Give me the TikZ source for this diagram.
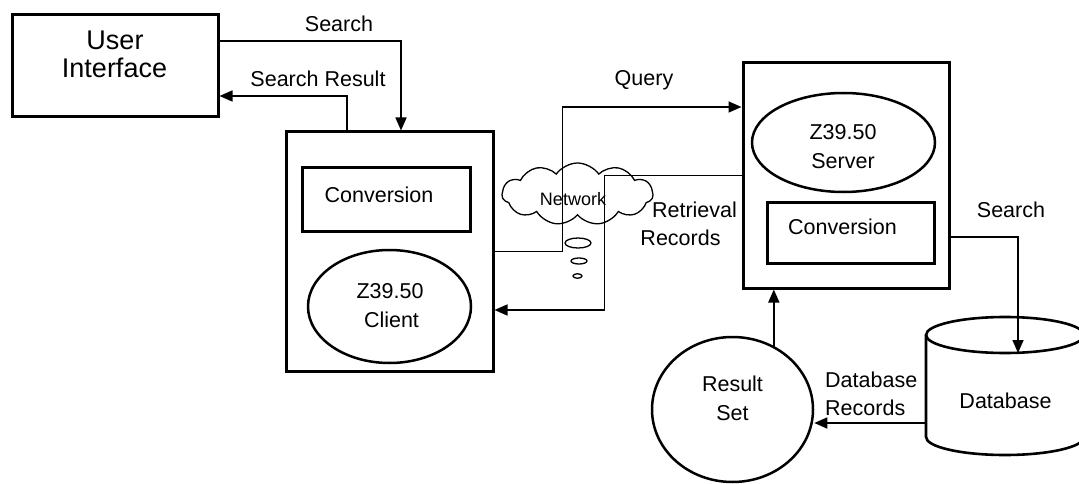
\documentclass[tikz,border=0pt]{standalone}
\usepackage{fontspec}
\setmainfont{Liberation Sans}
\usetikzlibrary{shapes.geometric,shapes.symbols,arrows.meta,calc}
\begin{document}
\begin{tikzpicture}[x=1pt,y=-1pt,
  box/.style={draw, line width=3pt, rectangle, inner sep=0pt},
  inbox/.style={draw, line width=3pt, rectangle, inner sep=0pt},
  oval/.style={draw, line width=2.5pt, ellipse, inner sep=0pt},
  lbl/.style={anchor=base, inner sep=0pt, font=\fontsize{21.5}{24}\selectfont},
  big/.style={anchor=base, inner sep=0pt, font=\fontsize{27}{30}\selectfont},
  bubble/.style={draw, line width=1.3pt, ellipse, inner sep=0pt},
  conn/.style={line width=1.6pt},
  arr/.style={conn, -{Triangle[length=13pt,width=11pt]}},
]
\useasboundingbox (0,0) rectangle (1079,484);

% User interface
\node[box, minimum width=206pt, minimum height=102pt] (ui) at (115,66) {};
\node[big] (uit1) at (115,50) {User};
\node[big] (uit2) at (114.5,78) {Interface};

% Client
\node[box, minimum width=207pt, minimum height=239pt] (client) at (389.5,251.5) {};
\node[inbox, minimum width=168pt, minimum height=63pt] (cconv) at (386,199.5) {};
\node[lbl] (cconvt) at (379,202) {Conversion};
\node[oval, minimum width=163pt, minimum height=113pt] (cz) at (389.5,306.5) {};
\node[lbl] (czt1) at (390,298) {Z39.50};
\node[lbl] (czt2) at (391.5,327) {Client};

% Server
\node[box, minimum width=206pt, minimum height=225pt] (server) at (846,175.5) {};
\node[oval, minimum width=183pt, minimum height=99pt] (sz) at (843.5,142.5) {};
\node[lbl] (szt1) at (843,140) {Z39.50};
\node[lbl] (szt2) at (843,168) {Server};
\node[inbox, minimum width=167pt, minimum height=61pt] (sconv) at (850.5,232.5) {};
\node[lbl] (sconvt) at (842.5,234) {Conversion};

% Result set
\node[oval, minimum width=161pt, minimum height=145pt] (rs) at (732.5,409.5) {};
\node[lbl] (rst1) at (732.5,391) {Result};
\node[lbl] (rst2) at (732.5,420) {Set};

% Database cylinder
\draw[line width=2.6pt] (1005,335) ellipse [x radius=79pt, y radius=18pt];
\draw[line width=2.6pt] (926,335) -- (926,437) arc[start angle=180, end angle=360, x radius=79pt, y radius=18pt] -- (1084,335);
\coordinate (dbtop) at (1018,353);
\coordinate (dbrec) at (926,423);
\node[lbl] (dbt) at (1005.5,408) {Database};

% Network cloud
\node[cloud, draw, line width=1.3pt, cloud puffs=11, cloud puff arc=110, aspect=2.4,
      minimum width=151pt, minimum height=62pt, inner sep=0pt] (net) at (577.5,194) {};
\node[anchor=base, inner sep=0pt, font=\fontsize{18}{20}\selectfont] (nett) at (573,205) {Network};
\node[bubble, minimum width=26pt, minimum height=10pt] (b1) at (578,243) {};
\node[bubble, minimum width=16pt, minimum height=6pt] (b2) at (579,261) {};
\node[bubble, minimum width=9pt, minimum height=4.5pt] (b3) at (577.5,276) {};

% Connectors
\draw[arr] ([yshift=25pt]ui.east) -| ([xshift=11.5pt]client.north);
\draw[arr] ([xshift=-42.5pt]client.north) |- ([yshift=-30pt]ui.east);
\draw[arr] (client.east) -- ++(68,0) |- ([yshift=68.5pt]server.west);
\draw[arr] (server.west) -- ++(-137,0) |- ([yshift=-58.5pt]client.east);
\draw[arr] ([yshift=-61.5pt]server.east) -| (dbtop);
\draw[arr] (rs.57) -- (rs.57 |- server.south);
\draw[arr] (dbrec) -- (dbrec -| rs.east);

% Labels
\node[lbl] (l1) at (339,32) {Search};
\node[lbl] (l2) at (318,87) {Search Result};
\node[lbl] (l3) at (644,86) {Query};
\node[lbl] (l4) at (694.5,217) {Retrieval};
\node[lbl] (l5) at (680.5,245) {Records};
\node[lbl] (l6) at (1011,217) {Search};
\node[lbl, anchor=base west] (l7) at (825,387) {Database};
\node[lbl, anchor=base west] (l8) at (825,415) {Records};
\end{tikzpicture}
\end{document}
